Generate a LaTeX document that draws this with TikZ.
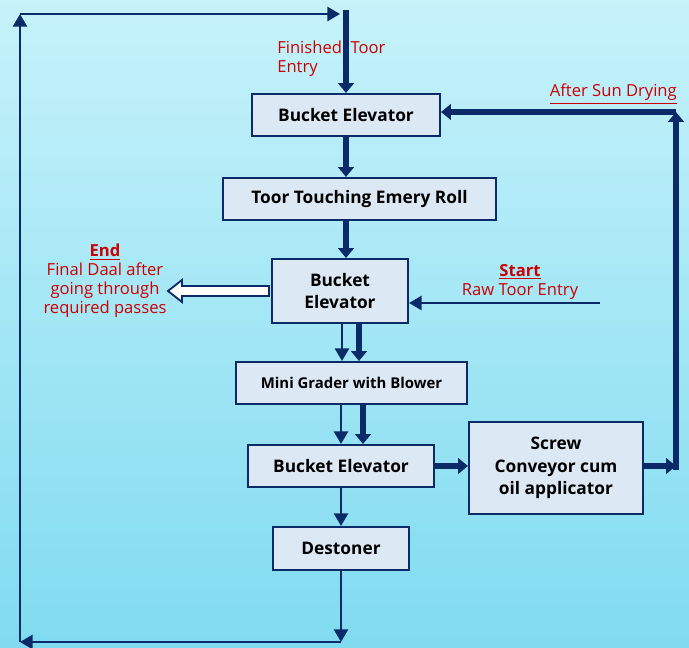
\documentclass[tikz,border=0pt]{standalone}
\usepackage{fontspec}
\setmainfont{Open Sans}
\usetikzlibrary{arrows.meta,calc}

\definecolor{navy}{HTML}{0B2A68}
\definecolor{boxfill}{HTML}{DDE8F5}
\definecolor{redtxt}{HTML}{CC0000}
\definecolor{bgtop}{HTML}{C6F2FA}
\definecolor{bgbot}{HTML}{80DBF0}

\tikzset{
	box/.style={draw=navy, line width=1.4pt, fill=boxfill, inner sep=0pt, align=center, font=\bfseries\fontsize{12.3}{16}\selectfont},
	arr/.style={navy, line width=1.8pt, -{Triangle[width=10pt,length=9pt]}},
	bigarr/.style={navy, line width=4.3pt, -{Triangle[width=11pt,length=7pt]}},
	lbl/.style={text=redtxt, inner sep=0pt, font=\fontsize{11.8}{13.5}\selectfont},
}

\begin{document}
\begin{tikzpicture}[x=0.025cm,y=-0.025cm]

		\useasboundingbox (0,0) rectangle (689,648);
		\shade[top color=bgtop, bottom color=bgbot] (0,0) rectangle (689,648);

		%\draw[step=40,gray,very thin] (0,0) grid (689,648);

		% machines
		\node[box, minimum width=4.7cm, minimum height=1.05cm] (be1) at (346,115) {Bucket Elevator};
		\node[box, minimum width=6.825cm, minimum height=1.05cm] (roll) at (359.5,199) {Toor Touching Emery Roll};
		\node[box, minimum width=3.4cm, minimum height=1.6cm] (be2) at (340,291) {Bucket\\Elevator};
		\node[box, minimum width=5.775cm, minimum height=1.05cm, font=\bfseries\fontsize{10.6}{13}\selectfont] (grader) at (351.5,383) {Mini Grader with Blower};
		\node[box, minimum width=4.65cm, minimum height=1.05cm] (be3) at (341,466) {Bucket Elevator};
		\node[box, minimum width=4.35cm, minimum height=2.3cm] (screw) at (556,468) {Screw\\Conveyor cum\\oil applicator};
		\node[box, minimum width=3.4cm, minimum height=1.075cm] (destoner) at (341,548.5) {Destoner};

		% free ends
		\coordinate (fin) at (346,10);
		\coordinate (tl) at (20,14);
		\coordinate (tr) at (340,14);
		\coordinate (bl) at (20,642);
		\coordinate (br) at (341,642);
		\coordinate (sr) at (676,466);
		\coordinate (sd) at (676,112);
		\coordinate (raw) at (600,303);

		% main line
		\draw[bigarr] (fin) -- (be1);
		\draw[bigarr] (be1) -- (be1 |- roll.north);
		\draw[bigarr] (roll.south -| be1) -- (be2.north -| be1);
		\draw[arr] ($(be2.south)+(2,0)$) -- ($(be2.south |- grader.north)+(2,0)$);
		\draw[bigarr] ($(be2.south)+(19,0)$) -- ($(be2.south |- grader.north)+(19,0)$);
		\draw[arr] (grader.south -| be3) -- (be3);
		\draw[bigarr] ($(grader.south -| be3)+(22,0)$) -- ($(be3.north)+(22,0)$);
		\draw[arr] (be3) -- (destoner);

		% oil coating and sun drying
		\draw[bigarr] (be3.east) -- (be3.east -| screw.west);
		\draw[bigarr] (screw.east |- sr) -- (sr);
		\draw[bigarr] ($(sr)+(0,4)$) -- (sd);
		\draw[bigarr] (sd) -- (be1.east |- sd);
			\node[lbl, anchor=south east] (sun) at (677,104) {\underline{After Sun Drying}};

		% return loop
		\draw[arr] (destoner) -- (br);
		\draw[arr] (br) -- (bl);
		\draw[arr] (bl) -- (tl);
		\draw[arr] (tl) -- (tr);
			\node[lbl, anchor=west, align=left] (finished) at (277,59) {Finished\ \ Toor\\Entry};

		% start
		\draw[arr] (raw) -- (raw -| be2.east);
			\node[lbl, align=center] (start) at (520,282) {\underline{\bfseries Start}\\Raw Toor Entry};

		% end
		\draw[navy, fill=white, line width=1.3pt] ($(be2.west)+(-2,-5)$) -- ++(-87,0) -- ++(0,-6) -- ++(-14,11) -- ++(14,11) -- ++(0,-6) -- ++(87,0) -- cycle;
			\node[lbl, align=center] (end) at (105,281) {\underline{\bfseries End}\\Final Daal after\\going through\\required passes};

	\end{tikzpicture}
\end{document}
